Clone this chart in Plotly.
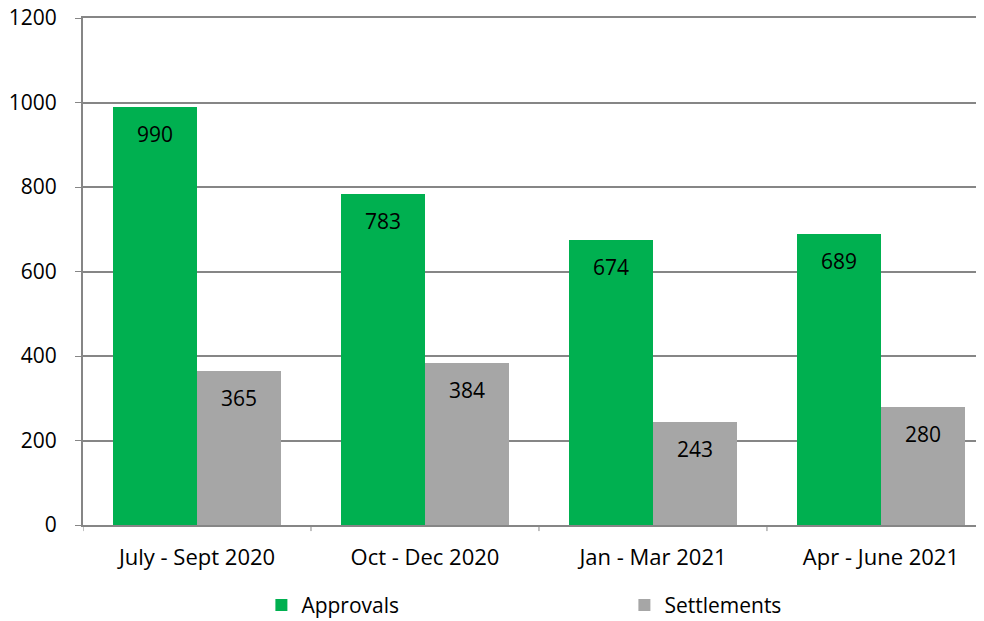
import plotly.graph_objects as go

quarters = ["July - Sept 2020", "Oct - Dec 2020", "Jan - Mar 2021", "Apr - June 2021"]
approvals = [990, 783, 674, 689]
settlements = [365, 384, 243, 280]

green = "#00B050"
grey = "#A6A6A6"
axis_grey = "#868686"
font_family = "Open Sans"

bar_w = 0.368
idx = list(range(len(quarters)))

fig = go.Figure()
fig.add_trace(go.Bar(x=idx, y=approvals, name="Approvals", marker_color=green,
                     width=bar_w, offset=-bar_w, marker_line_width=0))
fig.add_trace(go.Bar(x=idx, y=settlements, name="Settlements", marker_color=grey,
                     width=bar_w, offset=0, marker_line_width=0))

# value labels sit a bit below each bar top
for i in idx:
    fig.add_annotation(x=i - bar_w / 2, y=approvals[i], text=str(approvals[i]),
                       showarrow=False, yshift=-27, font=dict(size=21, color="black", family=font_family))
    fig.add_annotation(x=i + bar_w / 2, y=settlements[i], text=str(settlements[i]),
                       showarrow=False, yshift=-27, font=dict(size=21, color="black", family=font_family))

# page body has an 8px margin, so the figure is sized to end at the window edge
fig.update_layout(
    width=976, height=613,
    margin=dict(l=75, r=0, t=10, b=96, autoexpand=False),
    plot_bgcolor="white", paper_bgcolor="white",
    font=dict(family=font_family, size=21, color="black"),
    bargap=0,
    showlegend=True,
    legend=dict(orientation="h", x=0.198, xanchor="left", y=-0.118, yanchor="top",
                entrywidth=318, entrywidthmode="pixels", font=dict(size=21),
                itemsizing="constant", tracegroupgap=0),
)
fig.update_xaxes(
    tickmode="array", tickvals=idx, ticktext=quarters,
    range=[-0.5, 3.452], showgrid=False, automargin=False,
    showline=True, linecolor=axis_grey, linewidth=2, mirror=True,
    ticks="", zeroline=False, ticklabelstandoff=12,
    tickfont=dict(size=22),
)
# boundary ticks between categories
for b in [-0.5, 0.5, 1.5, 2.5, 3.5]:
    fig.add_shape(type="line", xref="x", yref="paper", x0=b, x1=b, y0=0, y1=-0.012,
                  line=dict(color=axis_grey, width=1))
fig.update_yaxes(
    range=[0, 1200], dtick=200, showgrid=True, gridcolor=axis_grey, gridwidth=1.5,
    showline=True, linecolor=axis_grey, linewidth=2, automargin=False,
    ticks="outside", ticklen=6, tickcolor=axis_grey, zeroline=False,
    ticklabelstandoff=14, tickfont=dict(size=21), ticklabeloverflow="allow",
)

fig.write_html("out.html")
